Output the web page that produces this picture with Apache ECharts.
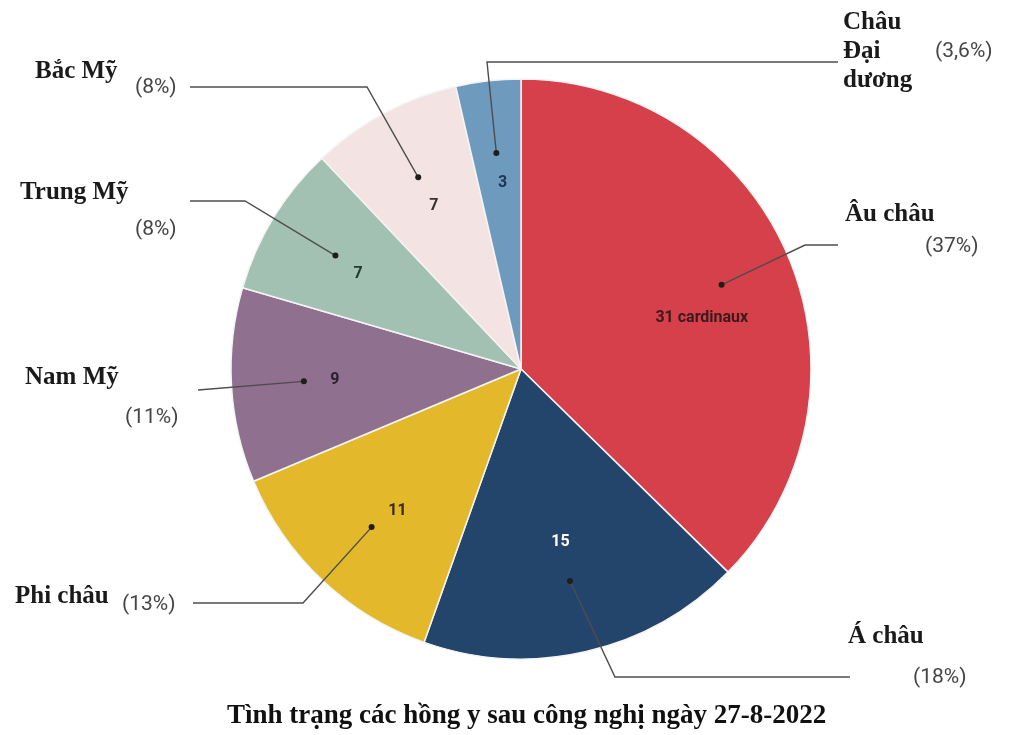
<!DOCTYPE html>
<html><head><meta charset="utf-8">
<script src="https://cdn.jsdelivr.net/npm/echarts@6/dist/echarts.min.js"></script>
<style>html,body{margin:0;padding:0;background:#fff}#c{width:1021px;height:735px}</style>
</head><body><div id="c"></div>
<script>
// ---- data ----
const names = ['Âu châu', 'Á châu', 'Phi châu', 'Nam Mỹ', 'Trung Mỹ', 'Bắc Mỹ', 'Châu Đại dương'];
const values = [31, 15, 11, 9, 7, 7, 3];
const percentLabels = ['(37%)', '(18%)', '(13%)', '(11%)', '(8%)', '(8%)', '(3,6%)'];
const valueSuffix = ['cardinaux', '', '', '', '', '', ''];
const chartTitle = 'Tình trạng các hồng y sau công nghị ngày 27-8-2022';

// ---- styles / layout ----
const colors = ['#d6404a', '#23446b', '#e3b92b', '#8f708f', '#a3c1b2', '#f3e4e3', '#6e9bbd'];
const valueColors = ['#3a1a1c', '#ffffff', '#3a2a10', '#2a1f2a', '#223a30', '#3a3030', '#1f3550'];
const CX = 521, CY = 369, R = 290;
const labelFrac = 0.65, dotFrac = 0.75;
const labelShift = [[7, 22], [-3, -11], [6, 5], [2, 0], [-2, 3], [2, 3], [3, 1]];
const elbows = [
  [[805, 245], [838, 245]],
  [[615, 677], [850, 677]],
  [[303, 603], [193, 603]],
  [[198, 390]],
  [[245, 201], [190, 201]],
  [[367, 87], [190, 87]],
  [[487, 62], [838, 62]]
];
const namePos = [[845, 215], [848, 637], [15, 597], [25, 378], [20, 193], [35, 72], [843, 52]];
const pctPos = [[925, 247], [913, 678], [122, 605], [125, 418], [135, 230], [135, 88], [935, 52]];

const total = values.reduce((a, b) => a + b, 0);
function midAngle(i) {
  let s = 0;
  for (let k = 0; k < i; k++) s += values[k];
  const a0 = 90 - s / total * 360;
  const a1 = a0 - values[i] / total * 360;
  return (a0 + a1) / 2 * Math.PI / 180;
}
function polar(i, f) {
  const a = midAngle(i);
  return [CX + f * R * Math.cos(a), CY - f * R * Math.sin(a)];
}

const graphics = [];
values.forEach((v, i) => {
  const d = polar(i, dotFrac);
  graphics.push({
    type: 'polyline', z: 100, silent: true,
    shape: { points: [d].concat(elbows[i]) },
    style: { stroke: '#4d4d4d', lineWidth: 1.4, fill: null }
  });
  graphics.push({
    type: 'circle', z: 101, silent: true,
    shape: { cx: d[0], cy: d[1], r: 3 },
    style: { fill: '#1e1e1e' }
  });
  const nm = i === 6 ? names[i].replace(/ /g, '\n') : names[i];
  graphics.push({
    type: 'text', z: 102, silent: true,
    style: {
      text: nm, x: namePos[i][0], y: namePos[i][1],
      font: 'bold 25px "Liberation Serif", serif', fill: '#1a1a1a',
      lineHeight: 29, align: 'left', verticalAlign: 'middle',
      textAlign: 'left', textVerticalAlign: 'middle'
    }
  });
  graphics.push({
    type: 'text', z: 102, silent: true,
    style: {
      text: percentLabels[i], x: pctPos[i][0], y: pctPos[i][1],
      font: '21px Roboto, "Liberation Sans", sans-serif', fill: '#454545',
      align: 'left', verticalAlign: 'middle',
      textAlign: 'left', textVerticalAlign: 'middle'
    }
  });
});

const chart = echarts.init(document.getElementById('c'));
chart.setOption({
  animation: false,
  backgroundColor: '#ffffff',
  title: {
    text: chartTitle, left: 222, top: 698,
    textStyle: { fontFamily: '"Liberation Serif", serif', fontWeight: 'bold', fontSize: 27, color: '#111' }
  },
  series: [{
    type: 'pie',
    center: [CX, CY],
    radius: [0, R],
    startAngle: 90,
    clockwise: true,
    silent: true,
    itemStyle: { borderColor: '#f4f4f4', borderWidth: 1.5 },
    label: {
      show: true, position: 'inside',
      fontFamily: 'Roboto, "Liberation Sans", sans-serif', fontSize: 16, fontWeight: 'bold',
      formatter: p => valueSuffix[p.dataIndex] ? p.value + ' ' + valueSuffix[p.dataIndex] : String(p.value)
    },
    labelLine: { show: false },
    labelLayout: p => {
      const pt = polar(p.dataIndex, labelFrac);
      const sh = labelShift[p.dataIndex];
      return { x: pt[0] + sh[0], y: pt[1] + sh[1], align: 'center', verticalAlign: 'middle' };
    },
    data: names.map((n, i) => ({
      name: n, value: values[i],
      itemStyle: { color: colors[i] },
      label: { color: valueColors[i] }
    }))
  }],
  graphic: graphics
});
</script>
</body></html>
